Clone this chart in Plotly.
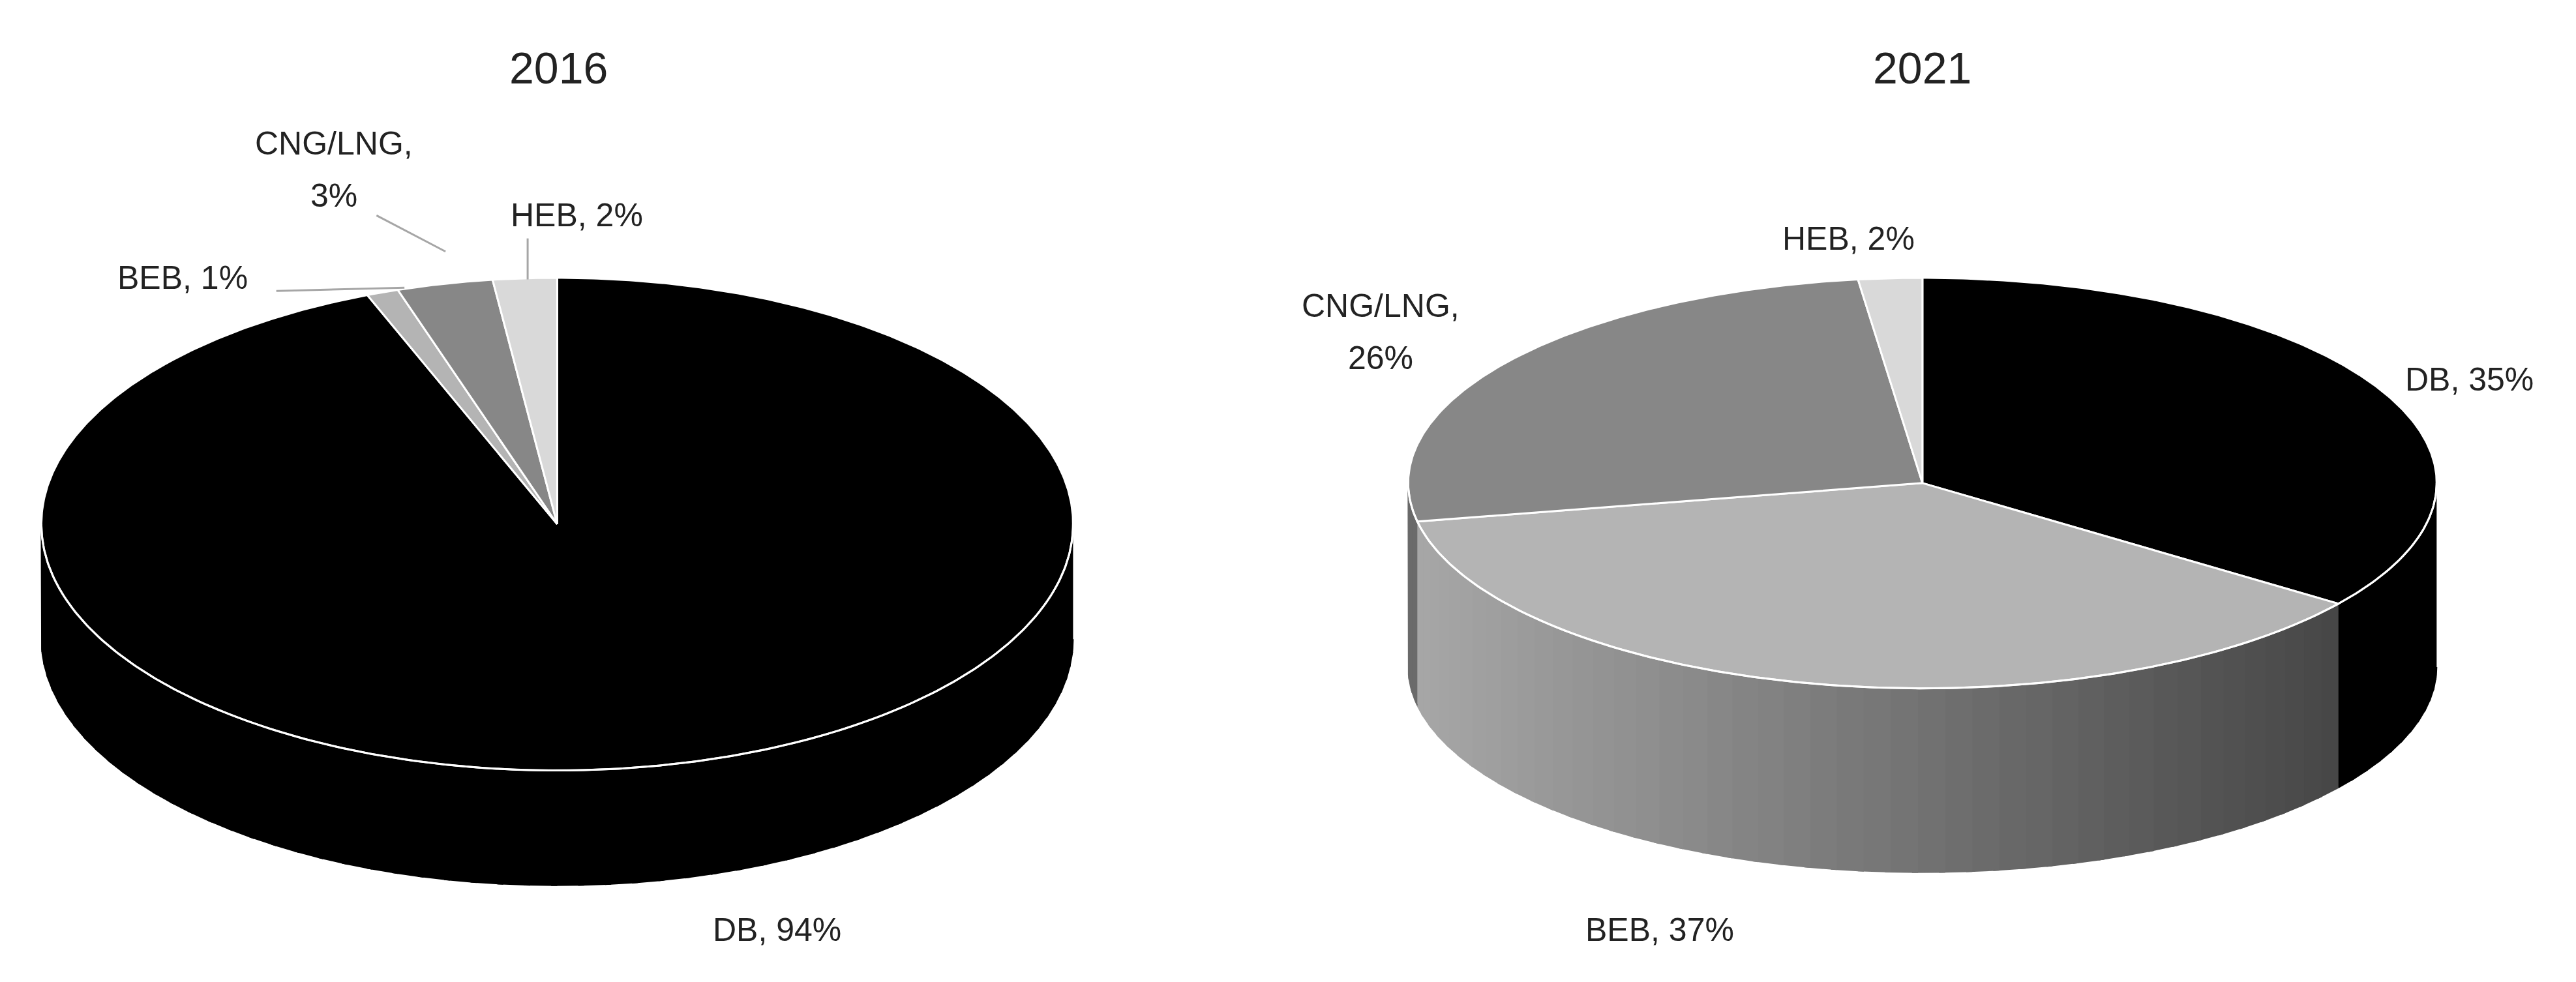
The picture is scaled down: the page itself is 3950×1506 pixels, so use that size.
import numpy as np
import plotly.graph_objects as go

categories = ["DB", "BEB", "CNG/LNG", "HEB"]
values_2016 = [94, 1, 3, 2]
values_2021 = [35, 37, 26, 2]
titles = ["2016", "2021"]
top_colors = {"DB": "#000000", "BEB": "#b4b4b4", "CNG/LNG": "#878787", "HEB": "#d9d9d9"}

W, H = 1568, 598
fig = go.Figure()

def hex2rgb(h):
    return np.array([int(h[i:i+2], 16) for i in (1, 3, 5)], float)

def side_color(cat, t):
    if cat == "BEB":
        c = hex2rgb("#a8a8a8") * (1 - t) + hex2rgb("#3c3c3c") * t
    elif cat == "DB":
        c = hex2rgb("#000000")
    elif cat == "CNG/LNG":
        c = hex2rgb("#6a6a6a")
    else:
        c = hex2rgb("#bbbbbb")
    return "rgb(%d,%d,%d)" % tuple(c)

def pie3d(vals, cx, cy, rx, ry, depth):
    tot = sum(vals)
    a0 = 0.0
    spans = []
    for cat, v in zip(categories, vals):
        a1 = a0 + 360 * v / tot
        spans.append((cat, a0, a1))
        a0 = a1
    for cat, s0, s1 in spans:
        lo, hi = max(s0, 90), min(s1, 270)
        if hi <= lo:
            continue
        n = max(2, int((hi - lo) / 3))
        edges = np.linspace(lo, hi, n + 1)
        for i in range(n):
            th = np.radians(np.linspace(edges[i], min(edges[i+1] + 0.6, hi), 6))
            xs = cx + rx * np.sin(th)
            ys = cy - ry * np.cos(th)
            px = np.concatenate([xs, xs[::-1]])
            py = np.concatenate([ys, ys[::-1] + depth])
            xm = (np.sin(th).mean() + 1) / 2
            col = side_color(cat, xm)
            fig.add_trace(go.Scatter(x=px, y=py, fill="toself", fillcolor=col, mode="lines",
                                     line=dict(color=col, width=2), hoverinfo="skip", showlegend=False))
    for cat, s0, s1 in spans:
        th = np.radians(np.linspace(s0, s1, max(3, int(s1 - s0) * 2)))
        px = np.concatenate([[cx], cx + rx * np.sin(th), [cx]])
        py = np.concatenate([[cy], cy - ry * np.cos(th), [cy]])
        fig.add_trace(go.Scatter(x=px, y=py, fill="toself", fillcolor=top_colors[cat], mode="lines",
                                 line=dict(color="white", width=3), hoverinfo="skip", showlegend=False))
    th = np.radians(np.linspace(90, 270, 200))
    fig.add_trace(go.Scatter(x=cx + rx * np.sin(th), y=cy - ry * np.cos(th), mode="lines",
                             line=dict(color="white", width=3), hoverinfo="skip", showlegend=False))

pie3d(values_2016, 336, 316, 314, 150, 70)
pie3d(values_2021, 1167, 291, 313, 125, 112)

for xs, ys in [([165, 243], [174, 172]), ([226, 268], [128, 150]), ([318, 318], [142, 167])]:
    fig.add_trace(go.Scatter(x=xs, y=ys, mode="lines", line=dict(color="#a6a6a6", width=3),
                             hoverinfo="skip", showlegend=False))

fs = 50
def txt(x, y, t, size=fs):
    fig.add_annotation(x=x, y=y, text=t, showarrow=False, xanchor="center",
                       font=dict(family="Liberation Sans", size=size, color="#222"))

txt(337, 38, titles[0], 68)
txt(1167, 38, titles[1], 68)
txt(470, 563, f"DB, {values_2016[0]}%")
txt(108, 166, f"BEB, {values_2016[1]}%")
txt(200, 84, "CNG/LNG,")
txt(200, 116, f"{values_2016[2]}%")
txt(348, 128, f"HEB, {values_2016[3]}%")
txt(1500, 228, f"DB, {values_2021[0]}%")
txt(1007, 563, f"BEB, {values_2021[1]}%")
txt(837, 183, "CNG/LNG,")
txt(837, 215, f"{values_2021[2]}%")
txt(1122, 142, f"HEB, {values_2021[3]}%")

fig.update_layout(width=3950, height=1506, margin=dict(l=0, r=0, t=0, b=0),
                  plot_bgcolor="white", paper_bgcolor="white",
                  xaxis=dict(range=[0, W], visible=False),
                  yaxis=dict(range=[H, 0], visible=False))
fig.write_html("out.html")
